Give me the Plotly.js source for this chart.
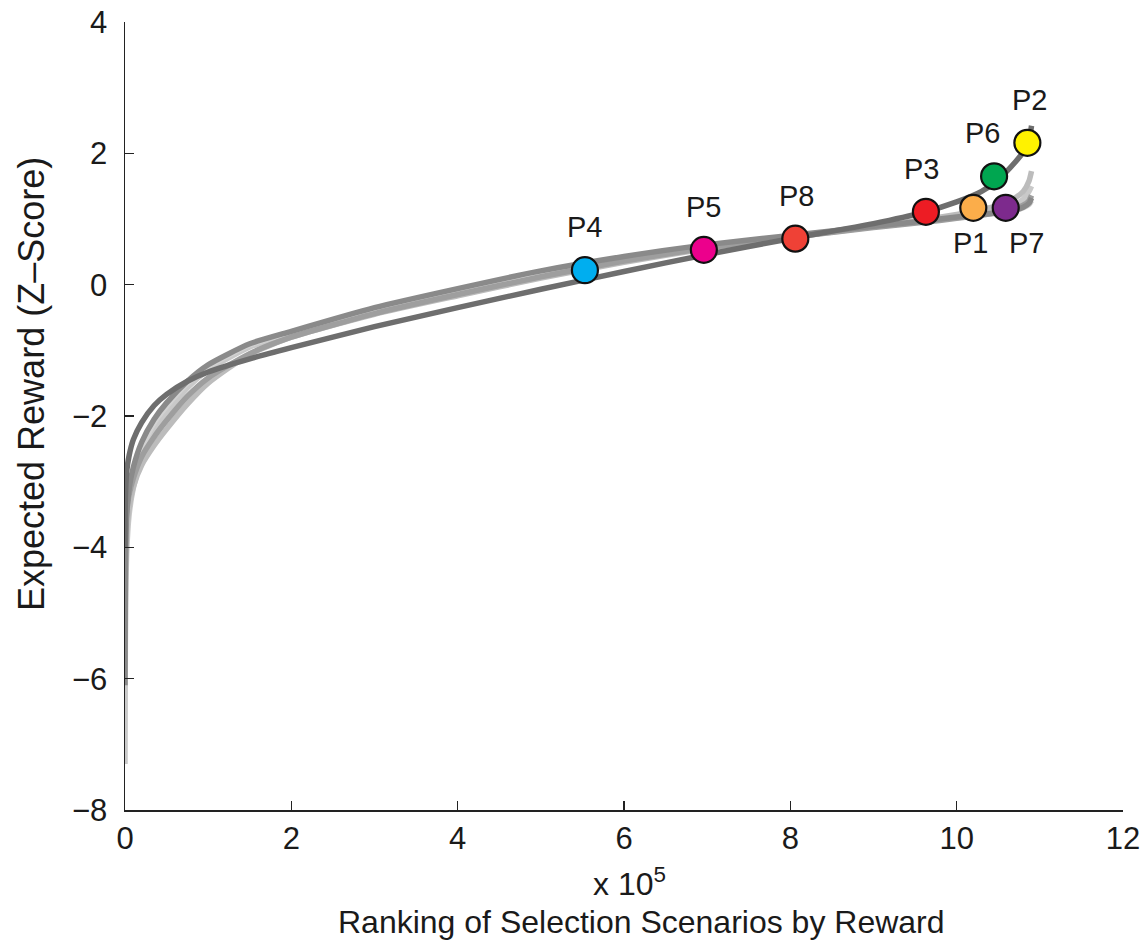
<!DOCTYPE html>
<html>
<head>
<meta charset="utf-8">
<script src="https://cdn.plot.ly/plotly-3.0.1.min.js"></script>
<style>html,body{margin:0;padding:0;background:#fff;}#chart{width:1147px;height:941px;}</style>
</head>
<body>
<div id="chart"></div>
<script>
// Ranking (x 10^5) sample positions shared by all curves
const rankX = [0, 0.004, 0.02, 0.05, 0.1, 0.2, 0.35, 0.5, 0.75, 1.0, 1.5, 2, 3, 4, 5, 6, 7, 8, 9, 9.6, 10, 10.3, 10.5, 10.7, 10.8, 10.87, 10.9];

// Expected reward curves (Z-score)
const curveLight1 = [-7.3, -5.5, -4.1, -3.5, -3.1, -2.65, -2.25, -1.95, -1.57, -1.3, -0.95, -0.74, -0.40, -0.12, 0.14, 0.37, 0.57, 0.72, 0.88, 0.96, 1.03, 1.09, 1.14, 1.22, 1.30, 1.42, 1.50];
const curveLight2 = [-5.8, -4.7, -3.8, -3.4, -3.08, -2.75, -2.45, -2.2, -1.82, -1.5, -1.06, -0.8, -0.45, -0.17, 0.10, 0.34, 0.55, 0.72, 0.89, 0.99, 1.07, 1.14, 1.21, 1.32, 1.42, 1.58, 1.73];
const curveLight3 = [-5.0, -4.1, -3.55, -3.2, -2.9, -2.5, -2.1, -1.85, -1.5, -1.25, -0.92, -0.72, -0.40, -0.12, 0.15, 0.39, 0.58, 0.73, 0.88, 0.96, 1.02, 1.06, 1.09, 1.13, 1.17, 1.22, 1.28];
const curveMid1 = [-6.1, -4.5, -3.5, -3.1, -2.78, -2.4, -2.05, -1.8, -1.47, -1.22, -0.9, -0.71, -0.35, -0.06, 0.21, 0.43, 0.61, 0.75, 0.89, 0.97, 1.03, 1.07, 1.10, 1.14, 1.18, 1.24, 1.32];
const curveMid2 = [-4.6, -3.95, -3.5, -3.2, -2.95, -2.62, -2.32, -2.07, -1.7, -1.42, -1.05, -0.8, -0.44, -0.15, 0.12, 0.36, 0.56, 0.72, 0.87, 0.95, 1.01, 1.06, 1.10, 1.16, 1.21, 1.28, 1.36];
const curveDark = [-4.0, -3.3, -2.85, -2.6, -2.36, -2.1, -1.84, -1.67, -1.47, -1.33, -1.13, -0.96, -0.64, -0.35, -0.07, 0.20, 0.46, 0.70, 0.93, 1.10, 1.26, 1.42, 1.60, 1.86, 2.02, 2.2, 2.42];

// Participant positions
const pNames = ["P4", "P5", "P8", "P3", "P1", "P6", "P7", "P2"];
const pRank = [5.53, 6.96, 8.06, 9.63, 10.2, 10.45, 10.59, 10.85];
const pReward = [0.22, 0.53, 0.70, 1.11, 1.17, 1.65, 1.17, 2.16];
const pColors = ["#00aeef", "#ec008c", "#ef4136", "#ed1c24", "#fbad4a", "#00a650", "#7d2a8d", "#fff200"];
const pLabelBelow = [false, false, false, false, true, false, true, false];
const pLabelDx = [0, 0, 1, -4, -3, -12, 21, 2];

const xTitle = "Ranking of Selection Scenarios by Reward";
const yTitle = "Expected Reward (Z\u2013Score)";

const lineDefs = [
  {y: curveLight1, c: "#c9c9c9"},
  {y: curveLight2, c: "#bcbcbc"},
  {y: curveLight3, c: "#d2d2d2"},
  {y: curveMid2, c: "#9e9e9e"},
  {y: curveMid1, c: "#8a8a8a"},
  {y: curveDark, c: "#6e6e6e"}
];

const traces = lineDefs.map(d => ({
  type: "scatter", mode: "lines", x: rankX, y: d.y,
  line: {color: d.c, width: 5.5, shape: "spline", smoothing: 0.6},
  hoverinfo: "skip", showlegend: false
}));

traces.push({
  type: "scatter", mode: "markers", x: pRank, y: pReward, text: pNames,
  marker: {size: 26, color: pColors, line: {color: "#111", width: 2.2}},
  showlegend: false
});

const font = "Liberation Sans, Arial, Helvetica, sans-serif";
const annotations = pNames.map((n, i) => ({
  x: pRank[i], y: pReward[i], xref: "x", yref: "y", text: n, showarrow: false,
  xshift: pLabelDx[i], yshift: pLabelBelow[i] ? -35 : 43,
  font: {family: font, size: 29, color: "#1a1a1a"}
}));
annotations.push({
  xref: "paper", yref: "paper", x: (629 - 125) / 998, y: -(882 - 810) / 788,
  text: "x 10<sup>5</sup>", showarrow: false, xanchor: "center", yanchor: "middle",
  font: {family: font, size: 32, color: "#1a1a1a"}
});
annotations.push({
  xref: "paper", yref: "paper", x: (641 - 125) / 998, y: -(922 - 810) / 788,
  text: xTitle, showarrow: false, xanchor: "center", yanchor: "middle",
  font: {family: font, size: 32, color: "#1a1a1a"}
});
annotations.push({
  xref: "paper", yref: "paper", x: (31 - 125) / 998, y: (810 - 384) / 788,
  text: yTitle, textangle: -90, showarrow: false, xanchor: "center", yanchor: "middle",
  font: {family: font, size: 36, color: "#1a1a1a"}
});

const layout = {
  width: 1147, height: 941,
  margin: {l: 125, r: 24, t: 22, b: 131},
  paper_bgcolor: "#fff", plot_bgcolor: "#fff",
  showlegend: false,
  xaxis: {
    range: [0, 12], tickvals: [0, 2, 4, 6, 8, 10, 12], ticktext: ["0", "2", "4", "6", "8", "10", "12"],
    showgrid: false, zeroline: false, showline: true, linecolor: "#222", linewidth: 1.5,
    ticks: "inside", ticklen: 9, tickwidth: 1.5, tickcolor: "#222",
    tickfont: {family: font, size: 31, color: "#1a1a1a"}
  },
  yaxis: {
    range: [-8, 4], tickvals: [-8, -6, -4, -2, 0, 2, 4], ticktext: ["\u22128", "\u22126", "\u22124", "\u22122", "0", "2", "4"],
    showgrid: false, zeroline: false, showline: true, linecolor: "#222", linewidth: 1.5,
    ticks: "inside", ticklen: 9, tickwidth: 1.5, tickcolor: "#222", ticklabelstandoff: 10,
    tickfont: {family: font, size: 31, color: "#1a1a1a"}
  },
  annotations: annotations
};

Plotly.newPlot("chart", traces, layout, {displayModeBar: false, staticPlot: true});
</script>
</body>
</html>
